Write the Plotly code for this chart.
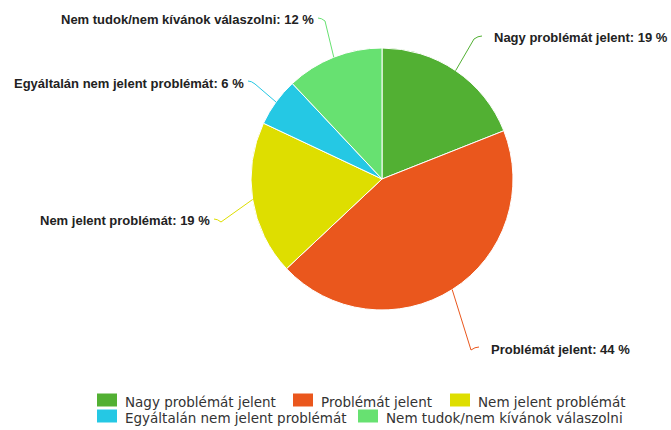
import math
import plotly.graph_objects as go

# ---- data ----
categories = [
    "Nagy problémát jelent",
    "Problémát jelent",
    "Nem jelent problémát",
    "Egyáltalán nem jelent problémát",
    "Nem tudok/nem kívánok válaszolni",
]
values = [19, 44, 19, 6, 12]
colors = ["#52b033", "#ea571d", "#dede00", "#25c8e4", "#67e171"]

# ---- layout constants (pixels) ----
W, H = 671, 430
CX, CY, R = 382, 179, 131

# label anchor: (x, y, side) ; side 'r' => text to the right of the connector
label_pos = [
    (492, 38, "r"),
    (489, 349, "r"),
    (212, 221, "l"),
    (246, 83, "l"),
    (316, 20, "l"),
]

# legend layout: (swatch left x, row center y) for each entry
legend_pos = [
    (97, 400),
    (293, 400),
    (450, 400),
    (97, 416),
    (358, 416),
]
SW_W, SW_H, TXT_GAP = 20, 13, 6


def fx(x):
    return x / W


def fy(y):
    return 1 - y / H


fig = go.Figure(
    go.Pie(
        labels=categories,
        values=values,
        sort=False,
        direction="clockwise",
        rotation=0,
        marker=dict(colors=colors, line=dict(color="white", width=1)),
        textinfo="none",
        hoverinfo="label+percent",
        showlegend=False,
        domain=dict(x=[fx(CX - R), fx(CX + R)], y=[fy(CY + R), fy(CY - R)]),
    )
)

total = sum(values)
cum = 0
shapes = []
annotations = []
for cat, v, col, (lx, ly, side) in zip(categories, values, colors, label_pos):
    mid = (cum + v / 2) / total * 2 * math.pi
    cum += v
    px_ = CX + R * math.sin(mid)
    py_ = CY - R * math.cos(mid)
    if side == "r":
        ex, ey = lx - 10, ly - 2
        kx, ky = ex - 8, ey + 3
    else:
        ex, ey = lx + 2, ly - 2
        kx, ky = ex + 7, ey + 3
    path = (
        f"M {fx(px_)},{fy(py_)} L {fx(kx)},{fy(ky)} "
        f"Q {fx((kx + ex) / 2)},{fy(ey)} {fx(ex)},{fy(ey)}"
    )
    shapes.append(
        dict(type="path", xref="paper", yref="paper", path=path,
             line=dict(color=col, width=1))
    )
    annotations.append(
        dict(
            x=fx(lx), y=fy(ly), xref="paper", yref="paper",
            text=f"<b>{cat}: {v} %</b>",
            showarrow=False,
            xanchor="left" if side == "r" else "right",
            yanchor="middle",
            font=dict(family="Liberation Sans, Arial, sans-serif", size=13, color="#222222"),
        )
    )

# legend (swatch + text per category)
for cat, col, (sx, sy) in zip(categories, colors, legend_pos):
    shapes.append(
        dict(type="rect", xref="paper", yref="paper",
             x0=fx(sx), x1=fx(sx + SW_W), y0=fy(sy + SW_H / 2), y1=fy(sy - SW_H / 2),
             fillcolor=col, line=dict(width=0))
    )
    annotations.append(
        dict(
            x=fx(sx + SW_W + TXT_GAP), y=fy(sy + 1.5), xref="paper", yref="paper",
            text=cat, showarrow=False, xanchor="left", yanchor="middle",
            font=dict(family="DejaVu Sans, sans-serif", size=13.5, color="#333333"),
        )
    )

fig.update_layout(
    width=W,
    height=H,
    margin=dict(l=0, r=0, t=0, b=0, autoexpand=False),
    paper_bgcolor="white",
    plot_bgcolor="white",
    shapes=shapes,
    annotations=annotations,
    showlegend=False,
)

fig.write_html(
    "out.html",
    config={"displayModeBar": False},
    post_script="document.body.style.margin='0px';",
)
